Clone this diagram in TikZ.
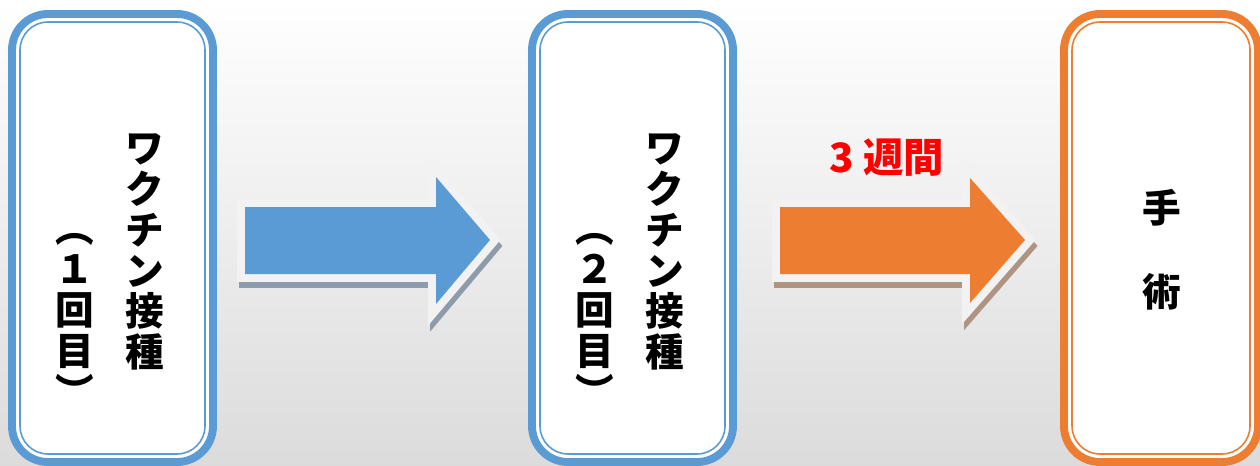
\documentclass[tikz,border=0pt]{standalone}
\usepackage{fontspec}
\newfontfamily\jpfont{Noto Sans CJK JP}
\definecolor{vacblue}{RGB}{91,155,213}
\definecolor{oporange}{RGB}{237,125,49}
\definecolor{blueshade}{RGB}{141,155,170}
\definecolor{orangeshade}{RGB}{176,148,130}
\definecolor{rim}{RGB}{242,242,242}

\begin{document}
\begin{tikzpicture}[x=0.02cm,y=-0.02cm,
		frame/.style={draw=#1, fill=white, line width=4.5pt, rounded corners=0.72cm},
		inframe/.style={draw=#1, line width=0.9pt, rounded corners=0.56cm},
		vtext/.style={align=center, inner sep=0pt,
			font=\jpfont\bfseries\fontsize{22}{23.3}\selectfont},
		arrowshadow/.style={fill=#1, draw=#1, line width=9pt, line join=miter},
		blockarrow/.style={fill=#1,
			preaction={draw=rim, line width=9pt, line join=miter}}]
		\useasboundingbox (0,0) rectangle (1260,466);
		\shade[top color=white, bottom color=black!14] (0,0) rectangle (1260,466);
		
		% first dose
		\draw[frame=vacblue] (12,14) rectangle (213,462);
		\draw[inframe=vacblue] (20,22) rectangle (205,454);
		\node[vtext] (dose1a) at (145,252) {ワ\\ク\\チ\\ン\\接\\種};
		\node[vtext] (dose1b) at (75,320) {︵\\１\\回\\目\\︶};
		
		% second dose
		\draw[frame=vacblue] (532,14) rectangle (733,462);
		\draw[inframe=vacblue] (540,22) rectangle (725,454);
		\node[vtext] (dose2a) at (665,252) {ワ\\ク\\チ\\ン\\接\\種};
		\node[vtext] (dose2b) at (595,320) {︵\\２\\回\\目\\︶};
		
		% operation
		\draw[frame=oporange] (1064,14) rectangle (1258,462);
		\draw[inframe=oporange] (1072,22) rectangle (1250,454);
		\node[vtext, font=\jpfont\bfseries\fontsize{22}{48}\selectfont]
			(surgery) at (1162,250) {手\\術};
		
		% arrows
		\draw[arrowshadow=blueshade, shift={(2,6)}] (245,207) -- (436,207) -- (436,177)
			-- (490,240) -- (436,304) -- (436,274) -- (245,274) -- cycle;
		\path[blockarrow=vacblue] (245,207) -- (436,207) -- (436,177)
			-- (490,240) -- (436,304) -- (436,274) -- (245,274) -- cycle;
		
		\draw[arrowshadow=orangeshade, shift={(2,6)}] (780,207) -- (970,207) -- (970,178)
			-- (1025,240) -- (970,303) -- (970,274) -- (780,274) -- cycle;
		\path[blockarrow=oporange] (780,207) -- (970,207) -- (970,178)
			-- (1025,240) -- (970,303) -- (970,274) -- (780,274) -- cycle;
		\node[text=red, font=\jpfont\bfseries\fontsize{23}{23}\selectfont]
			(weeks) at (887,158) {3 週間};
	\end{tikzpicture}
\end{document}
